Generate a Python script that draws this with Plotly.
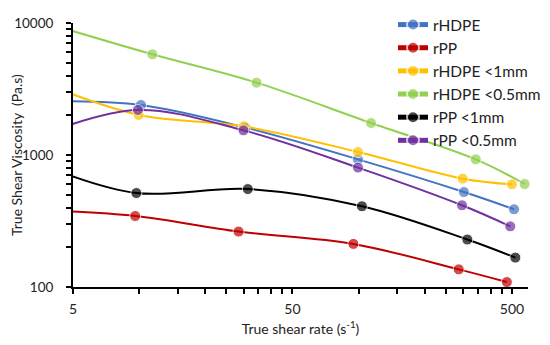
import plotly.graph_objects as go

# Data (first point lies left of the visible axis start, so only its line segment shows)
names = ["rHDPE", "rPP", "rHDPE <1mm", "rHDPE <0.5mm", "rPP <1mm", "rPP <0.5mm"]
colors = ["#4472C4", "#C00000", "#FFC000", "#92D050", "#000000", "#7030A0"]

x_rhdpe = [4, 10.2, 30.5, 99.4, 302, 511]
y_rhdpe = [2561, 2393, 1613, 927, 524, 388]

x_rpp = [4, 9.6, 28.4, 94.7, 286, 474]
y_rpp = [379, 345, 263, 212, 136, 109]

x_rhdpe_1 = [4, 9.96, 30.0, 99.4, 298, 500]
y_rhdpe_1 = [3313, 2011, 1648, 1054, 662, 600]

x_rhdpe_05 = [4, 11.5, 34.3, 114, 342, 571]
y_rhdpe_05 = [9700, 5794, 3532, 1747, 927, 603]

x_rpp_1 = [4, 9.72, 31.3, 103.6, 313, 518]
y_rpp_1 = [787, 515, 552, 409, 229, 167]

x_rpp_05 = [4, 9.88, 29.9, 99.4, 296, 491]
y_rpp_05 = [1514, 2193, 1537, 803, 416, 288]

xs = [x_rhdpe, x_rpp, x_rhdpe_1, x_rhdpe_05, x_rpp_1, x_rpp_05]
ys = [y_rhdpe, y_rpp, y_rhdpe_1, y_rhdpe_05, y_rpp_1, y_rpp_05]

x_ticks = [5, 50, 500]
x_minor = [10, 15, 20, 25, 30, 35, 40, 45, 100, 150, 200, 250, 300, 350, 400, 450]
y_ticks = [100, 1000, 10000]
y_minor = [200, 300, 400, 500, 600, 700, 800, 900,
           2000, 3000, 4000, 5000, 6000, 7000, 8000, 9000]

FONT = "Lato"
TXT = "#222222"
W, H = 542, 337  # page body has an 8px margin

fig = go.Figure()
for n, c, x, y in zip(names, colors, xs, ys):
    fig.add_trace(go.Scatter(
        x=x, y=y, name=n, mode="lines+markers",
        line=dict(color=c, width=2, shape="spline", smoothing=1),
        marker=dict(color=c, size=[0] + [11] * (len(x) - 1)),
        cliponaxis=False,
    ))

fig.update_layout(
    width=W, height=H,
    margin=dict(l=65, r=22, t=15, b=58, autoexpand=False),
    paper_bgcolor="white", plot_bgcolor="white",
    font=dict(family=FONT, size=14, color=TXT),
    showlegend=True,
    legend=dict(x=385 / W, y=1.0, xref="container", yref="container",
                xanchor="left", yanchor="top",
                font=dict(family=FONT, size=15.5, color=TXT),
                bgcolor="rgba(0,0,0,0)", itemsizing="constant"),
    xaxis=dict(type="log", range=[0.69897, 2.772], automargin=False,
               tickvals=x_ticks, ticktext=[str(v) for v in x_ticks],
               showgrid=False, zeroline=False,
               showline=True, linecolor="black", linewidth=2,
               ticks="outside", ticklen=5, tickwidth=1.5, tickcolor="black",
               ticklabelstandoff=3,
               minor=dict(tickvals=x_minor, ticks="outside", ticklen=5,
                          tickwidth=1.5, tickcolor="black", showgrid=False),
               title=dict(text="True shear rate (s<sup>-1</sup>)", standoff=8,
                          font=dict(family=FONT, size=14))),
    yaxis=dict(type="log", range=[2, 4], automargin=False,
               tickvals=y_ticks, ticktext=[str(v) for v in y_ticks],
               tickfont=dict(family=FONT, size=13.5, color=TXT),
               showgrid=False, zeroline=False,
               showline=True, linecolor="black", linewidth=2,
               ticks="outside", ticklen=5, tickwidth=1.5, tickcolor="black",
               ticklabelstandoff=10, ticklabeloverflow="allow",
               minor=dict(tickvals=y_minor, ticks="outside", ticklen=5,
                          tickwidth=1.5, tickcolor="black", showgrid=False)),
    annotations=[dict(text="True Shear Viscosity  (Pa.s)", textangle=-90,
                      xref="paper", yref="paper", x=0, y=0.5,
                      xanchor="center", yanchor="middle", xshift=-57,
                      showarrow=False, font=dict(family=FONT, size=14, color=TXT))],
)

fig.write_html("out.html")
